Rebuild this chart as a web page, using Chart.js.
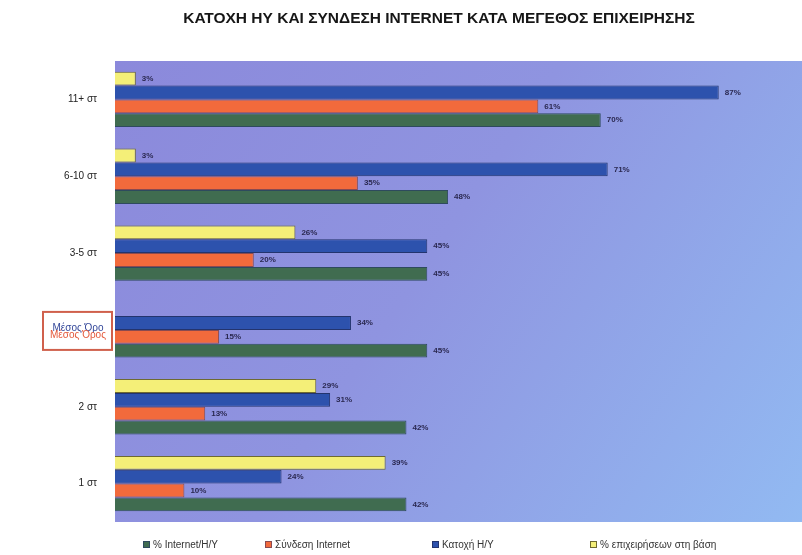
<!DOCTYPE html>
<html>
<head>
<meta charset="utf-8">
<script src="https://cdn.jsdelivr.net/npm/chart.js@4/dist/chart.umd.min.js"></script>
<style>
  html, body { margin: 0; padding: 0; background: #fff; }
  #wrap { width: 802px; height: 555px; }
</style>
</head>
<body>
<div id="wrap"><canvas id="myChart" width="802" height="555"></canvas></div>
<script>
// categories, top to bottom
const categories = ["11+ στ", "6-10 στ", "3-5 στ", "Μέσος Όρος", "2 στ", "1 στ"];

// % επιχειρήσεων στη βάση
const basi = [3, 3, 26, null, 29, 39];
// Κατοχή Η/Υ
const katoxi = [87, 71, 45, 34, 31, 24];
// Σύνδεση Internet
const syndesi = [61, 35, 20, 15, 13, 10];
// % Internet/Η/Υ
const internetHY = [70, 48, 45, 45, 42, 42];

const titleText = "ΚΑΤΟΧΗ ΗΥ ΚΑΙ ΣΥΝΔΕΣΗ INTERNET ΚΑΤΑ ΜΕΓΕΘΟΣ ΕΠΙΧΕΙΡΗΣΗΣ";
const avgIndex = 3;
const font = "'Liberation Sans', Arial, sans-serif";

// gradient behind the bars
const plotBg = {
  id: "plotBg",
  beforeDraw(chart) {
    let ctx = chart.ctx;
    let a = chart.chartArea;
    let g = ctx.createLinearGradient(a.left, a.top, a.right, a.bottom);
    g.addColorStop(0, "#8b89db");
    g.addColorStop(0.45, "#8f94e0");
    g.addColorStop(1, "#92baf2");
    ctx.save();
    ctx.fillStyle = g;
    ctx.fillRect(a.left, a.top, a.right - a.left, a.bottom - a.top);
    ctx.restore();
  },
};

// title, value labels, boxed average label and legend
const extras = {
  id: "extras",
  afterDraw(chart) {
    let ctx = chart.ctx;
    ctx.save();

    // title
    ctx.fillStyle = "#161616";
    ctx.font = "bold 15.5px " + font;
    ctx.textAlign = "center";
    ctx.textBaseline = "middle";
    ctx.fillText(titleText, 439, 19);

    // value labels at bar ends
    ctx.font = "bold 8px " + font;
    ctx.fillStyle = "#2a2850";
    ctx.textAlign = "left";
    chart.data.datasets.forEach((ds, di) => {
      let meta = chart.getDatasetMeta(di);
      meta.data.forEach((bar, i) => {
        let v = ds.data[i];
        if (v == null) return;
        ctx.fillText(v + "%", bar.x + 6, bar.y);
      });
    });

    // boxed average label
    let y = chart.scales.y.getPixelForValue(avgIndex);
    ctx.fillStyle = "#ffffff";
    ctx.fillRect(43, y - 18, 69, 38);
    ctx.strokeStyle = "#d0604c";
    ctx.lineWidth = 2;
    ctx.strokeRect(43, y - 18, 69, 38);
    ctx.textAlign = "center";
    ctx.font = "10px " + font;
    ctx.fillStyle = "#34489a";
    ctx.fillText("Μέσος Όρο", 78, y - 2);
    ctx.fillStyle = "#e4583a";
    ctx.fillText("Μέσος Όρος", 78, y + 5);

    // legend, in reverse dataset order
    let xs = [143, 265, 432, 590];
    let ds = chart.data.datasets.slice().reverse();
    ctx.font = "10px " + font;
    ctx.textAlign = "left";
    ds.forEach((d, i) => {
      ctx.fillStyle = d.backgroundColor;
      ctx.fillRect(xs[i], 541, 7, 7);
      ctx.strokeStyle = d.borderColor;
      ctx.lineWidth = 1;
      ctx.strokeRect(xs[i] + 0.5, 541.5, 6, 6);
      ctx.fillStyle = "#333333";
      ctx.fillText(d.label, xs[i] + 10, 545);
    });
    ctx.restore();
  },
};

const ctx = document.getElementById("myChart").getContext("2d");
const chart = new Chart(ctx, {
  type: "bar",
  data: {
    labels: categories,
    datasets: [
      {
        label: "% επιχειρήσεων στη βάση",
        data: basi,
        backgroundColor: "#f4ef78",
        borderColor: "#6e6a30",
        borderWidth: 1,
      },
      {
        label: "Κατοχή Η/Υ",
        data: katoxi,
        backgroundColor: "#2d52ad",
        borderColor: "#23346e",
        borderWidth: 1,
      },
      {
        label: "Σύνδεση Internet",
        data: syndesi,
        backgroundColor: "#f26a3c",
        borderColor: "#8a4a50",
        borderWidth: 1,
      },
      {
        label: "% Internet/Η/Υ",
        data: internetHY,
        backgroundColor: "#406c50",
        borderColor: "#2e4a5e",
        borderWidth: 1,
      },
    ],
  },
  options: {
    indexAxis: "y",
    responsive: false,
    animation: false,
    layout: { padding: { left: 0, right: 0, top: 61, bottom: 33 } },
    datasets: {
      bar: { categoryPercentage: 0.72, barPercentage: 1.0 },
    },
    scales: {
      x: {
        display: false,
        min: 0,
        max: 99,
      },
      y: {
        grid: { display: false },
        border: { display: false },
        afterFit(scale) {
          scale.width = 115;
        },
        ticks: {
          padding: 10,
          font: { size: 10, family: font },
          color: (c) => (c.index === avgIndex ? "rgba(0,0,0,0)" : "#222222"),
        },
      },
    },
    plugins: {
      title: { display: false },
      legend: { display: false },
      tooltip: { enabled: false },
    },
  },
  plugins: [plotBg, extras],
});
</script>
</body>
</html>
